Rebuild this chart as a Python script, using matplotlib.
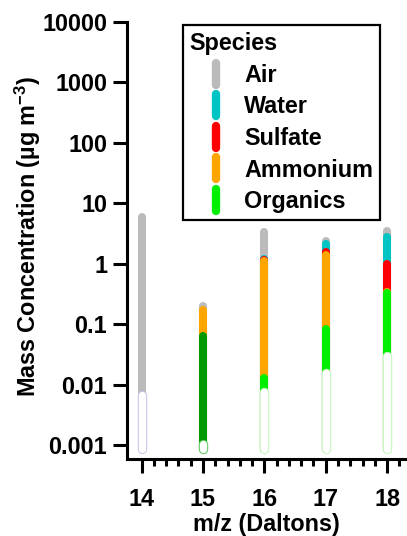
import matplotlib
matplotlib.use('Agg')
import matplotlib.pyplot as plt
import numpy as np
from matplotlib.lines import Line2D
from matplotlib.markers import MarkerStyle
from matplotlib.ticker import FixedLocator

plt.rcParams['font.family'] = ['Liberation Sans', 'DejaVu Sans']
plt.rcParams['font.weight'] = 'bold'
plt.rcParams['mathtext.fontset'] = 'custom'
plt.rcParams['mathtext.rm'] = 'Liberation Sans'
plt.rcParams['mathtext.bf'] = 'Liberation Sans:bold'

# m/z channels and stacked (cumulative) tops of each species, ug m^-3
mz = [14, 15, 16, 17, 18]
nan = np.nan
air_top = [6.0, 0.2, 3.4, 2.34, 3.55]
water_top = [nan, nan, 1.2, 2.14, 2.76]
sulfate_top = [nan, nan, 1.15, 1.56, 1.0]
ammonium_top = [nan, 0.174, 1.1, 1.41, 0.34]
organics_top = [nan, 0.065, 0.013, 0.082, 0.33]
base_top = [0.0068, 0.00106, 0.0077, 0.0156, 0.030]
bar_bottom = 0.00085

species = ['Air', 'Water', 'Sulfate', 'Ammonium', 'Organics']
colors = ['#bbbbbb', '#00c4c4', '#ff0000', '#ffa500', '#00ee00']
organics_colors = ['#00ee00', '#009900', '#00ee00', '#00ee00', '#00ee00']
base_edge = ['#c8c8e6', '#66cc66', '#c8f5c0', '#c8f5c0', '#c8f5c0']

fs = 16.8
fig = plt.figure(figsize=(4.07, 5.36), dpi=100)
ax = fig.add_axes([0.311, 0.1437, 0.688, 0.8153])

lw = 5.8
# draw from top layer down so each lower layer sits over the one above
layers = [(air_top, [colors[0]] * 5), (water_top, [colors[1]] * 5),
          (sulfate_top, [colors[2]] * 5), (ammonium_top, [colors[3]] * 5),
          (organics_top, organics_colors)]
for tops, cols in layers:
    for x, t, c in zip(mz, tops, cols):
        if np.isnan(t):
            continue
        ax.plot([x, x], [bar_bottom, t], color=c, lw=lw, solid_capstyle='round')
for x, t, e in zip(mz, base_top, base_edge):
    ax.plot([x, x], [bar_bottom, t], color=e, lw=lw + 1.0, solid_capstyle='round')
    ax.plot([x, x], [bar_bottom, t], color='white', lw=lw - 0.6, solid_capstyle='round')

ax.set_yscale('log')
ax.set_ylim(0.00059, 1e4)
ax.set_xlim(13.756, 18.316)
ax.yaxis.set_major_locator(FixedLocator([1e-3, 1e-2, 1e-1, 1, 10, 100, 1000, 1e4]))
ax.yaxis.set_minor_locator(FixedLocator([]))
ax.set_yticklabels(['0.001', '0.01', '0.1', '1', '10', '100', '1000', '10000'])
ax.xaxis.set_major_locator(FixedLocator(mz))
minor_x = [m + 0.2 * k for m in mz[:-1] for k in range(1, 5)] + [18.2]
ax.xaxis.set_minor_locator(FixedLocator(minor_x))

for s in ['top', 'right']:
    ax.spines[s].set_visible(False)
for s in ['left', 'bottom']:
    ax.spines[s].set_linewidth(2.2)
ax.tick_params(axis='both', which='major', direction='out', length=10, width=2.2,
               labelsize=fs, pad=4)
ax.tick_params(axis='x', which='minor', direction='out', length=5, width=2.2)
ax.tick_params(axis='x', which='major', pad=11)

ax.set_xlabel('m/z (Daltons)', fontsize=fs, fontweight='bold', labelpad=1.5)
ylab = ax.set_ylabel('Mass Concentration (µg m$^{\\mathbf{-3}}$)', fontsize=fs,
                     fontweight='bold')
ylab.set_va('center')
ax.yaxis.set_label_coords(-0.352, 0.508)

handles = [Line2D([], [], ls='none', color=c,
                  marker=MarkerStyle('|', capstyle='round'),
                  markersize=16, markeredgewidth=6) for c in colors]
leg = ax.legend(handles, species, title='Species', loc='upper left',
                bbox_to_anchor=(0.20, 0.993), frameon=True, fancybox=False,
                edgecolor='black', framealpha=1, fontsize=fs,
                title_fontsize=fs, alignment='left', handlelength=2.25,
                handletextpad=0.08, labelspacing=0.37, borderpad=0.3,
                borderaxespad=0)
leg.get_frame().set_linewidth(1.6)
leg.get_title().set_fontweight('bold')
for t in leg.get_texts():
    t.set_fontweight('bold')

fig.savefig('out.png', dpi=100)
